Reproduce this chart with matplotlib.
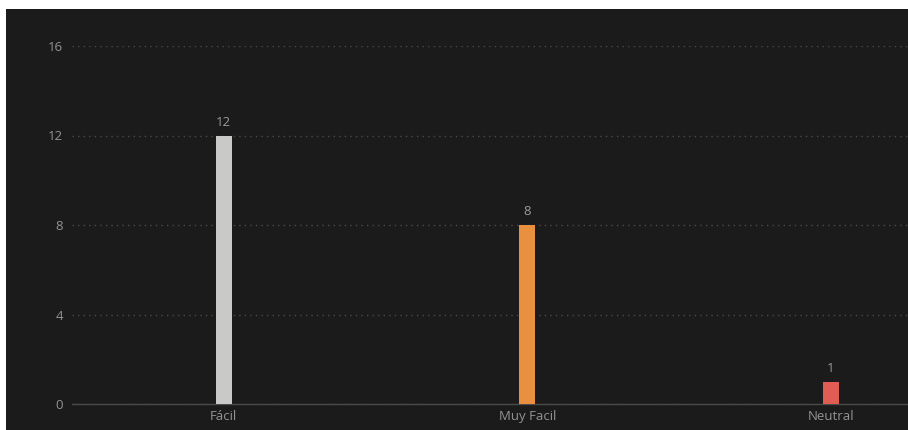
import matplotlib
matplotlib.use("Agg")
import matplotlib.pyplot as plt
from matplotlib.patches import Rectangle

categories = ["Fácil", "Muy Facil", "Neutral"]
values = [12, 8, 1]
colors = ["#c9c9c7", "#e98f40", "#e15d53"]
yticks = [0, 4, 8, 12, 16]

W, H = 908, 430
fig = plt.figure(figsize=(W / 100, H / 100), dpi=100, facecolor="white")
bg = Rectangle((6 / W, 0), 1, 1 - 9 / H, transform=fig.transFigure,
               facecolor="#1b1b1b", edgecolor="none", zorder=-10)
fig.patches.append(bg)

left = 72 / W
band = 303.5 / W
ax = fig.add_axes([left, 26 / H, 3 * band, 358 / H])
ax.set_facecolor("none")
x = list(range(len(categories)))
ax.bar(x, values, width=16 / 303.5, color=colors, zorder=3)
for xi, v in zip(x, values):
    ax.annotate(str(v), (xi, v), xytext=(0, 5), textcoords="offset points",
                ha="center", va="bottom", color="#9a9a9a", fontsize=9.5,
                family="Open Sans")
ax.set_xlim(-0.5, 2.5)
ax.set_ylim(0, 16)
ax.set_yticks(yticks)
ax.set_xticks(x)
ax.set_xticklabels(categories)
for s in ["top", "right", "left"]:
    ax.spines[s].set_visible(False)
ax.spines["bottom"].set_color("#4a4a4a")
ax.spines["bottom"].set_linewidth(1)
ax.grid(axis="y", color="#4a4a4a", linestyle=(0, (1, 3)), linewidth=1, zorder=1)
ax.tick_params(axis="both", length=0, colors="#939393", labelsize=9.5)
ax.tick_params(axis="y", pad=6.5)
ax.tick_params(axis="x", pad=4)
for lab in ax.get_xticklabels() + ax.get_yticklabels():
    lab.set_family("Open Sans")
fig.savefig("out.png", dpi=100, facecolor="white")
